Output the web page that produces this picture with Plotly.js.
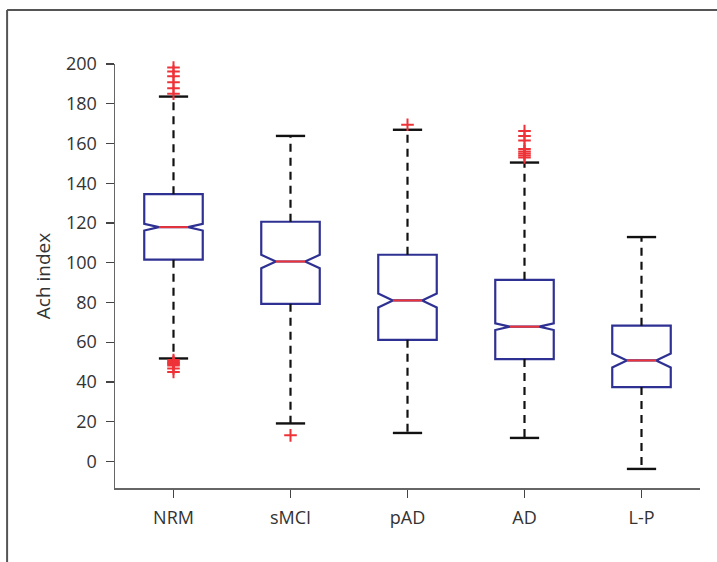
<!DOCTYPE html>
<html>
<head>
<meta charset="utf-8">
<script src="https://cdn.plot.ly/plotly-3.0.1.min.js"></script>
<style>
html,body{margin:0;padding:0;background:#fff;}
#chart{width:717px;height:562px;}
</style>
</head>
<body>
<div id="chart"></div>
<script>
// ---- data ----
var categories = ['NRM', 'sMCI', 'pAD', 'AD', 'L-P'];
var q1Values = [101.5, 79.3, 61.2, 51.5, 37.4];
var medianValues = [117.9, 100.6, 81.0, 67.8, 50.8];
var q3Values = [134.5, 120.6, 104.0, 91.4, 68.3];
var lowerWhisker = [51.8, 19.1, 14.3, 11.8, -3.8];
var upperWhisker = [183.6, 163.8, 166.9, 150.4, 112.9];
var notchHalfSpan = [1.7, 3.35, 3.5, 1.7, 3.5];
var outliersNRM = [198.2, 196.2, 193.8, 190.8, 187.8, 185.0, 51.0, 50.2, 49.6, 49.0, 48.2, 46.8, 45.0];
var outliersSMCI = [13.1];
var outliersPAD = [169.4];
var outliersAD = [166.3, 163.8, 161.5, 157.2, 156.0, 155.0, 154.0, 153.0];
var outliersLP = [];
var outlierGroups = [outliersNRM, outliersSMCI, outliersPAD, outliersAD, outliersLP];
var yTickValues = [0, 20, 40, 60, 80, 100, 120, 140, 160, 180, 200];

// ---- styling ----
var boxBlue = '#2e3192';
var medRed = '#ee3338';
var halfCap = 0.125;

var pos = categories.map(function (c, i) { return i; });

var boxTrace = {
  type: 'box',
  x: pos,
  q1: q1Values,
  median: medianValues,
  q3: q3Values,
  lowerfence: q1Values,
  upperfence: q3Values,
  notchspan: notchHalfSpan,
  notched: true,
  notchwidth: 0.25,
  width: 0.5,
  whiskerwidth: 0,
  boxpoints: false,
  line: {color: boxBlue, width: 2.2},
  fillcolor: 'rgba(0,0,0,0)',
  hoverinfo: 'skip',
  showlegend: false
};

var wx = [], wy = [], cx = [], cy = [], mx = [], my = [], ox = [], oy = [];
pos.forEach(function (p, i) {
  wx.push(p, p, null, p, p, null);
  wy.push(q3Values[i], upperWhisker[i], null, q1Values[i], lowerWhisker[i], null);
  cx.push(p - halfCap, p + halfCap, null, p - halfCap, p + halfCap, null);
  cy.push(upperWhisker[i], upperWhisker[i], null, lowerWhisker[i], lowerWhisker[i], null);
  mx.push(p - halfCap, p + halfCap, null);
  my.push(medianValues[i], medianValues[i], null);
  outlierGroups[i].forEach(function (v) { ox.push(p); oy.push(v); });
});

var whiskerTrace = {
  type: 'scatter', mode: 'lines', x: wx, y: wy,
  line: {color: '#111', width: 2.2, dash: '8px,6px'},
  hoverinfo: 'skip', showlegend: false, cliponaxis: false
};
var capTrace = {
  type: 'scatter', mode: 'lines', x: cx, y: cy,
  line: {color: '#111', width: 2.4},
  hoverinfo: 'skip', showlegend: false, cliponaxis: false
};
var medianTrace = {
  type: 'scatter', mode: 'lines', x: mx, y: my,
  line: {color: medRed, width: 2},
  hoverinfo: 'skip', showlegend: false, cliponaxis: false
};
var outlierTrace = {
  type: 'scatter', mode: 'markers', x: ox, y: oy,
  marker: {symbol: 'cross-thin', size: 9, color: medRed, line: {color: medRed, width: 2}},
  hoverinfo: 'skip', showlegend: false, cliponaxis: false
};

var L = 115, R = 16.5, T = 64, B = 73.7;
var W = 717, H = 562;
var pw = W - L - R, ph = H - T - B;
function px2x(px) { return (px - L) / pw; }
function py2y(py) { return (H - B - py) / ph; }

var layout = {
  width: W, height: H,
  margin: {l: L, r: R, t: T, b: B, pad: 0},
  paper_bgcolor: '#fff', plot_bgcolor: '#fff',
  font: {family: '"Open Sans", "Noto Sans", sans-serif', size: 18, color: '#333'},
  showlegend: false,
  xaxis: {
    range: [-0.5, 4.5],
    tickvals: pos, ticktext: categories,
    showgrid: false, zeroline: false,
    showline: true, linecolor: '#666', linewidth: 1.5,
    ticks: 'outside', ticklen: 8, tickwidth: 1.2, tickcolor: '#444',
    tickfont: {size: 18, color: '#333'},
    ticklabelstandoff: 5
  },
  yaxis: {
    range: [-13.4, 200],
    tickvals: yTickValues,
    showgrid: false, zeroline: false,
    showline: true, linecolor: '#666', linewidth: 1.5,
    ticks: 'outside', ticklen: 8, tickwidth: 1.2, tickcolor: '#444',
    tickfont: {size: 18, color: '#333'},
    ticklabelstandoff: 5,
    title: {text: 'Ach index', font: {size: 19, color: '#333'}, standoff: 10}
  },
  shapes: [
    {type: 'line', xref: 'paper', yref: 'paper', x0: px2x(7), x1: px2x(7), y0: py2y(10), y1: py2y(600), line: {color: '#555', width: 2}},
    {type: 'line', xref: 'paper', yref: 'paper', x0: px2x(7), x1: px2x(760), y0: py2y(10), y1: py2y(10), line: {color: '#555', width: 2}}
  ]
};

Plotly.newPlot('chart', [boxTrace, whiskerTrace, capTrace, medianTrace, outlierTrace], layout, {displayModeBar: false, staticPlot: true});
</script>
</body>
</html>
